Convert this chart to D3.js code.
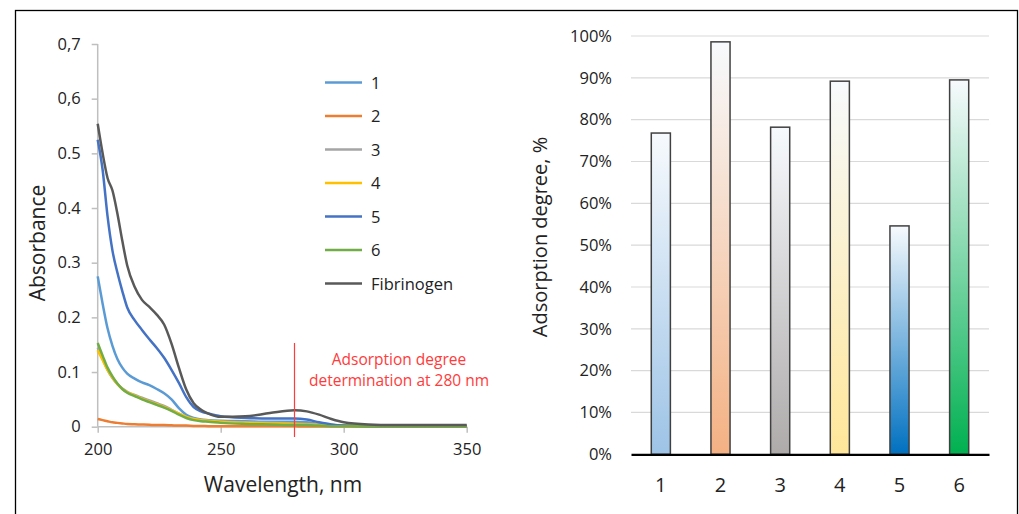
<!DOCTYPE html>
<html>
<head>
<meta charset="utf-8">
<script src="https://cdn.jsdelivr.net/npm/d3@7"></script>
<style>
  body { margin: 0; background: #fff; }
  svg { display: block; font-family: "Open Sans", sans-serif; }
</style>
</head>
<body>
<script>
// absorbance spectra (left) + adsorption degree bars (right)

const wavelengths = [200, 202, 204, 206, 208, 210, 212, 215, 218, 221, 224, 227, 230, 233, 236, 239, 242, 245, 250, 260, 270, 280, 285, 290, 295, 300, 310, 320, 350];

const seriesNames = ["1", "2", "3", "4", "5", "6", "Fibrinogen"];
const seriesColors = ["#5b9bd5", "#ed7d31", "#a5a5a5", "#ffc000", "#4472c4", "#70ad47", "#595959"];

const s1 = [0.275, 0.225, 0.18, 0.148, 0.124, 0.108, 0.097, 0.088, 0.081, 0.076, 0.069, 0.061, 0.05, 0.034, 0.022, 0.016, 0.013, 0.012, 0.011, 0.010, 0.009, 0.009, 0.008, 0.005, 0.003, 0.002, 0.001, 0.001, 0.001];
const s2 = [0.014, 0.012, 0.010, 0.008, 0.007, 0.006, 0.005, 0.0045, 0.004, 0.0035, 0.003, 0.003, 0.0025, 0.002, 0.002, 0.0015, 0.0015, 0.001, 0.001, 0.001, 0.0008, 0.0006, 0.0005, 0.0005, 0.0005, 0.0005, 0.0004, 0.0003, 0.0002];
const s3 = [0.145, 0.124, 0.104, 0.089, 0.078, 0.07, 0.064, 0.058, 0.053, 0.048, 0.043, 0.038, 0.031, 0.024, 0.018, 0.014, 0.012, 0.011, 0.009, 0.008, 0.007, 0.006, 0.005, 0.004, 0.003, 0.002, 0.002, 0.002, 0.002];
const s4 = [0.14, 0.122, 0.104, 0.09, 0.078, 0.069, 0.063, 0.057, 0.051, 0.046, 0.041, 0.036, 0.030, 0.024, 0.018, 0.014, 0.012, 0.011, 0.009, 0.007, 0.006, 0.005, 0.004, 0.003, 0.002, 0.002, 0.001, 0.001, 0.001];
const s5 = [0.525, 0.47, 0.385, 0.322, 0.282, 0.248, 0.218, 0.195, 0.177, 0.16, 0.144, 0.126, 0.104, 0.08, 0.054, 0.036, 0.028, 0.024, 0.019, 0.016, 0.015, 0.015, 0.013, 0.008, 0.004, 0.002, 0.001, 0.001, 0.001];
const s6 = [0.153, 0.13, 0.108, 0.092, 0.079, 0.069, 0.062, 0.056, 0.05, 0.045, 0.04, 0.035, 0.029, 0.022, 0.016, 0.012, 0.01, 0.009, 0.007, 0.005, 0.004, 0.003, 0.003, 0.002, 0.001, 0.001, 0.001, 0.001, 0.001];
const sFib = [0.554, 0.50, 0.455, 0.432, 0.39, 0.34, 0.295, 0.256, 0.232, 0.219, 0.205, 0.187, 0.152, 0.108, 0.068, 0.043, 0.031, 0.024, 0.018, 0.019, 0.025, 0.030, 0.028, 0.022, 0.014, 0.008, 0.004, 0.003, 0.003];
const seriesValues = [s1, s2, s3, s4, s5, s6, sFib];

const xTicks = [200, 250, 300, 350];
const yTicks = [0, 0.1, 0.2, 0.3, 0.4, 0.5, 0.6, 0.7];
const yTickLabels = ["0", "0.1", "0.2", "0.3", "0.4", "0.5", "0,6", "0,7"];
const markerWavelength = 280;

const barCats = ["1", "2", "3", "4", "5", "6"];
const barValues = [0.768, 0.986, 0.782, 0.892, 0.546, 0.895];
const barColors = ["#9dc3e6", "#f4b183", "#aeaaaa", "#ffe699", "#0070c0", "#00b050"];
const barTicks = [0, 0.1, 0.2, 0.3, 0.4, 0.5, 0.6, 0.7, 0.8, 0.9, 1.0];

const W = 1019, H = 514;
const svg = d3.select("body").append("svg").attr("width", W).attr("height", H);

// outer frame
svg.append("rect")
  .attr("x", 15.5).attr("y", 10.5).attr("width", 1002).attr("height", 520)
  .attr("fill", "none").attr("stroke", "#000").attr("stroke-width", 1.3);

// ---------- left: spectra ----------
const x = d3.scaleLinear().domain([200, 350]).range([97.7, 466.7]);
const y = d3.scaleLinear().domain([0, 0.7]).range([426.7, 44]);
const axisCol = "#bfbfbf";
const textCol = "#222";
const tickFont = "16.5px";

const left = svg.append("g");

const yAx = left.append("g").attr("transform", "translate(" + x(200) + ",0)")
  .call(d3.axisLeft(y).tickValues(yTicks).tickSize(6).tickPadding(11)
    .tickFormat((d, i) => yTickLabels[i]));
const xAx = left.append("g").attr("transform", "translate(0," + y(0) + ")")
  .call(d3.axisBottom(x).tickValues(xTicks).tickSize(6).tickPadding(11).tickFormat(d3.format("d")));
[yAx, xAx].forEach(function (g) {
  g.select(".domain").attr("stroke", axisCol).attr("stroke-width", 1.5);
  g.selectAll(".tick line").attr("stroke", axisCol).attr("stroke-width", 1.5);
  g.selectAll(".tick text").attr("fill", textCol).style("font-size", tickFont).style("font-family", "'Open Sans', sans-serif");
});
yAx.select(".domain").attr("d", "M0," + y(0.7) + "V" + y(0));
xAx.select(".domain").attr("d", "M" + x(200) + ",0H" + x(350));

const line = d3.line()
  .x((d, i) => x(wavelengths[i]))
  .y(d => y(d))
  .curve(d3.curveMonotoneX);

seriesValues.forEach(function (vals, k) {
  left.append("path")
    .attr("d", line(vals))
    .attr("fill", "none")
    .attr("stroke", seriesColors[k])
    .attr("stroke-width", 2.5)
    .attr("stroke-linejoin", "round");
});

// marker line at 280 nm
left.append("line")
  .attr("x1", x(markerWavelength)).attr("x2", x(markerWavelength))
  .attr("y1", 343).attr("y2", 437)
  .attr("stroke", "#ff3b3b").attr("stroke-width", 1.2);
left.append("text").attr("x", 399).attr("y", 365).attr("text-anchor", "middle")
  .attr("fill", "#ff3b3b").style("font-size", "15.5px").text("Adsorption degree");
left.append("text").attr("x", 399).attr("y", 386).attr("text-anchor", "middle")
  .attr("fill", "#ff3b3b").style("font-size", "15.5px").text("determination at 280 nm");

// legend
const legend = left.append("g");
seriesNames.forEach(function (name, k) {
  const ly = 82.5 + k * 33.5;
  legend.append("line").attr("x1", 325).attr("x2", 362).attr("y1", ly).attr("y2", ly)
    .attr("stroke", seriesColors[k]).attr("stroke-width", 2.5);
  legend.append("text").attr("x", 371).attr("y", ly + 6)
    .attr("fill", textCol).style("font-size", tickFont).text(name);
});

// axis titles
left.append("text").attr("x", 283).attr("y", 492).attr("text-anchor", "middle")
  .attr("fill", textCol).style("font-size", "21px").text("Wavelength, nm");
left.append("text").attr("transform", "translate(45,243) rotate(-90)").attr("text-anchor", "middle")
  .attr("fill", textCol).style("font-size", "21px").text("Absorbance");

// ---------- right: bars ----------
const xb = d3.scaleBand().domain(barCats).range([631, 989]).paddingInner(0.68).paddingOuter(0.34);
const yb = d3.scaleLinear().domain([0, 1]).range([454.3, 36]);

const right = svg.append("g");

const defs = svg.append("defs");
barColors.forEach(function (c, i) {
  const gr = defs.append("linearGradient").attr("id", "grad" + i)
    .attr("x1", 0).attr("y1", 0).attr("x2", 0).attr("y2", 1);
  gr.append("stop").attr("offset", "0%").attr("stop-color", "#f7fafd");
  gr.append("stop").attr("offset", "100%").attr("stop-color", c);
});

// gridlines
right.append("g").selectAll("line").data(barTicks.slice(1)).join("line")
  .attr("x1", 631).attr("x2", 989)
  .attr("y1", d => yb(d)).attr("y2", d => yb(d))
  .attr("stroke", "#d9d9d9").attr("stroke-width", 1.2);

const yAxB = right.append("g").attr("transform", "translate(631,0)")
  .call(d3.axisLeft(yb).tickValues(barTicks).tickSize(0).tickPadding(19).tickFormat(d3.format(".0%")));
yAxB.select(".domain").remove();
yAxB.selectAll(".tick text").attr("fill", textCol).style("font-size", tickFont).style("font-family", "'Open Sans', sans-serif");

right.selectAll("rect.bar").data(barValues).join("rect")
  .attr("class", "bar")
  .attr("x", (d, i) => xb(barCats[i]))
  .attr("width", xb.bandwidth())
  .attr("y", d => yb(d))
  .attr("height", d => yb(0) - yb(d))
  .attr("fill", (d, i) => "url(#grad" + i + ")")
  .attr("stroke", "#404040").attr("stroke-width", 1.5);

const xAxB = right.append("g").attr("transform", "translate(0," + yb(0) + ")")
  .call(d3.axisBottom(xb).tickSize(0).tickPadding(24));
xAxB.select(".domain").attr("stroke", "#000").attr("stroke-width", 2.2);
xAxB.selectAll(".tick text").attr("fill", textCol).style("font-size", "20px").style("font-family", "'Open Sans', sans-serif");

right.append("text").attr("transform", "translate(547,237) rotate(-90)").attr("text-anchor", "middle")
  .attr("fill", textCol).style("font-size", "20px").text("Adsorption degree, %");
</script>
</body>
</html>
